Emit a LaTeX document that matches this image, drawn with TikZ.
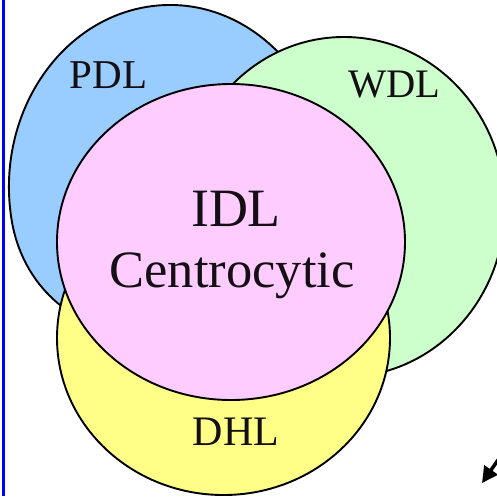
\documentclass[tikz,border=0pt]{standalone}
\usepackage{fontspec}
\setmainfont{Liberation Serif}
\usetikzlibrary{shapes.geometric,arrows.meta}
\definecolor{cblue}{RGB}{153,204,255}
\definecolor{cgreen}{RGB}{204,255,204}
\definecolor{cpink}{RGB}{255,204,255}
\definecolor{cyellow}{RGB}{255,255,136}
\definecolor{ctext}{RGB}{20,15,20}
\tikzset{
  outline/.style={draw=black, line width=1.9pt},
  blob/.style={ellipse, outline, inner sep=0pt},
  lbl/.style={anchor=base, inner sep=0pt, text=ctext},
}
\begin{document}
\begin{tikzpicture}[x=1pt,y=-1pt]
\useasboundingbox (0,0) rectangle (497,496);
\clip (0,0) rectangle (497,496);
\fill[white] (0,0) rectangle (497,496);
% PDL region (slightly egg-shaped at its lower left)
\coordinate (pdlstart) at (11.4,218.6);
\draw[outline, fill=cblue] (pdlstart) arc[start angle=170, end angle=420, x radius=161, y radius=182]
  -- (150,345) -- (90,328) -- (60,305) .. controls (35,285) and (17,255) .. cycle;
\node[blob, fill=cgreen, minimum width=322pt, minimum height=340pt] (wdl) at (344,207) {};
\node[blob, fill=cyellow, minimum width=333pt, minimum height=314pt] (dhl) at (223.5,338) {};
\node[blob, fill=cpink, minimum width=348pt, minimum height=316pt] (idl) at (231,242) {};
\node[lbl, font=\fontsize{41}{41}\selectfont] (tpdl) at (108.5,88) {PDL};
\node[lbl, font=\fontsize{40.5}{40.5}\selectfont] (twdl) at (394.5,97) {WDL};
\node[lbl, font=\fontsize{54}{54}\selectfont] (tidl) at (236,226) {IDL};
\node[lbl, font=\fontsize{52.5}{52.5}\selectfont] (tcen) at (232,287) {Centrocytic};
\node[lbl, font=\fontsize{42}{42}\selectfont] (tdhl) at (236,445) {DHL};
\coordinate (bt) at (3,0);
\coordinate (bb) at (3,496);
\draw[blue, line width=3pt] (bt) -- (bb);
\coordinate (as) at (505,450);
\coordinate (ae) at (482,483);
\draw[black, line width=3.5pt, -{Triangle[length=16pt,width=16pt]}] (as) -- (ae);
\end{tikzpicture}
\end{document}
